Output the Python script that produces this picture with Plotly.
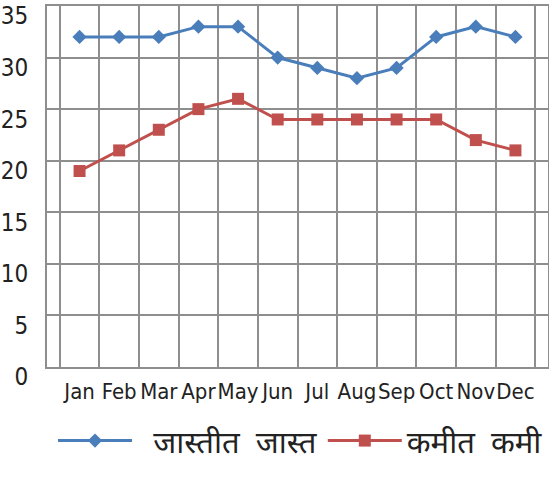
import plotly.graph_objects as go

months = ["Jan", "Feb", "Mar", "Apr", "May", "Jun", "Jul", "Aug", "Sep", "Oct", "Nov", "Dec"]
max_temp = [32, 32, 32, 33, 33, 30, 29, 28, 29, 32, 33, 32]
min_temp = [19, 21, 23, 25, 26, 24, 24, 24, 24, 24, 22, 21]
y_ticks = [0, 5, 10, 15, 20, 25, 30, 35]

BLUE = "#4a7ebb"
RED = "#c0504d"
GRID = "#8e8e8e"
DEVA = "Noto Sans Devanagari, Noto Sans, sans-serif"
CONDENSED = "DejaVu Sans Condensed, Liberation Sans, sans-serif"
GAP = "\u00a0\u00a0"

fig = go.Figure()

fig.add_trace(
    go.Scatter(
        x=months,
        y=max_temp,
        mode="lines+markers",
        name=GAP + "जास्तीत  जास्त",
        line={"color": BLUE, "width": 3},
        marker={"symbol": "diamond", "size": 11, "color": BLUE},
    )
)

fig.add_trace(
    go.Scatter(
        x=months,
        y=min_temp,
        mode="lines+markers",
        name="कमीत  कमी",
        line={"color": RED, "width": 3},
        marker={"symbol": "square", "size": 12, "color": RED},
    )
)

fig.update_layout(
    width=549,
    height=479,
    margin={"l": 47, "r": 1, "t": 6, "b": 112, "autoexpand": False},
    paper_bgcolor="white",
    plot_bgcolor="white",
    showlegend=True,
    legend={
        "orientation": "h",
        "x": 0.012,
        "y": -0.13,
        "xanchor": "left",
        "yanchor": "top",
        "font": {"family": DEVA, "size": 31, "color": "#222"},
        "itemwidth": 74,
        "tracegroupgap": 0,
    },
    xaxis={
        "type": "category",
        "tickson": "boundaries",
        "tickangle": 0,
        "showgrid": True,
        "gridcolor": GRID,
        "gridwidth": 2,
        "showline": True,
        "linecolor": GRID,
        "linewidth": 2,
        "mirror": True,
        "ticks": "",
        "automargin": False,
        "ticklabelstandoff": 4,
        "tickfont": {"family": CONDENSED, "size": 22, "color": "#222"},
    },
    yaxis={
        "range": [0, 35],
        "tickvals": y_ticks,
        "showgrid": True,
        "gridcolor": GRID,
        "gridwidth": 2,
        "showline": True,
        "linecolor": GRID,
        "linewidth": 2,
        "mirror": True,
        "zeroline": False,
        "ticks": "",
        "automargin": False,
        "ticklabelstandoff": 12,
        "ticklabelshift": 10,
        "tickfont": {"family": CONDENSED, "size": 24, "color": "#222"},
    },
)

fig.write_html(
    "out.html",
    config={"displayModeBar": False},
    post_script="document.body.style.margin='0';",
)
